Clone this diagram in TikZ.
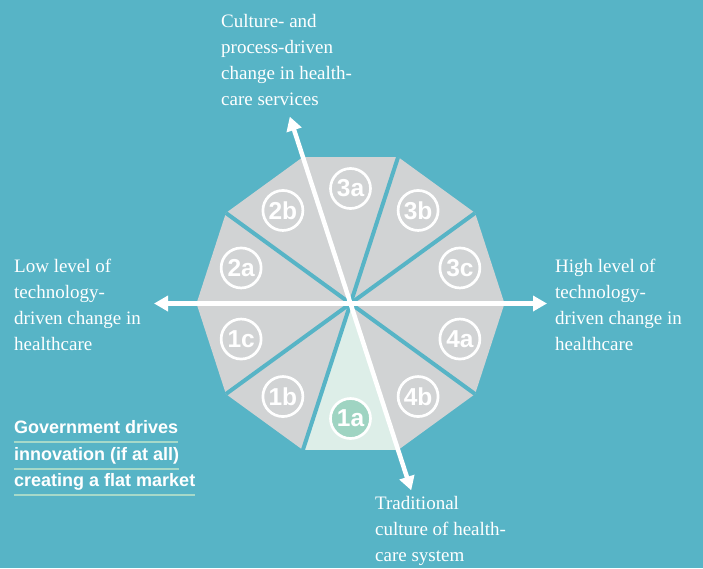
\documentclass[tikz,border=0pt]{standalone}
\usepackage{fontspec}
\setmainfont{Liberation Serif}
\newfontfamily\labelsans{Liberation Sans}
\usetikzlibrary{arrows.meta,calc}
\definecolor{bgblue}{HTML}{57B4C6}
\definecolor{slicegray}{HTML}{D1D3D4}
\definecolor{slicemint}{HTML}{DDEEE8}
\definecolor{circgreen}{HTML}{9FD4C2}
\definecolor{ulmint}{HTML}{A6D9C9}
\begin{document}
\begin{tikzpicture}[x=1pt,y=-1pt,
  axis/.style={white, line width=4.5pt, -{Triangle[width=15pt,length=14pt]}},
  sepline/.style={bgblue, line width=4pt},
  badge/.style={circle, draw=white, line width=2.7pt, minimum size=40pt, inner sep=0pt, text=white,
    font=\labelsans\bfseries\fontsize{24.5}{24.5}\selectfont},
  axlabel/.style={text=white, align=left, anchor=base west, inner sep=0pt,
    font=\fontsize{19}{26}\selectfont},
  boldline/.style={text=white, anchor=base west, inner sep=0pt,
    font=\labelsans\bfseries\fontsize{18}{20}\selectfont},
  uline/.style={ulmint, line width=2pt}]
\fill[bgblue] (0,0) rectangle (703,568);
\useasboundingbox (0,0) rectangle (703,568);
\coordinate (C) at (350.5,303.5);
\foreach \i in {0,...,9}{
  \coordinate (V\i) at ($(C)+({154*cos(36*\i)},{-154*sin(36*\i)})$);
}
% slices
\foreach \i/\col in {0/slicegray,1/slicegray,2/slicegray,3/slicegray,4/slicegray,5/slicegray,6/slicegray,7/slicemint,8/slicegray}{
  \pgfmathtruncatemacro{\j}{\i+1}
  \fill[\col] (C) -- (V\i) -- (V\j) -- cycle;
}
\fill[slicegray] (C) -- (V9) -- (V0) -- cycle;
% separators
\foreach \i in {1,2,4,6,7,9}{
  \draw[sepline] (C) -- (V\i);
}
% axes
\coordinate (AR) at ($(C)+(196.5,0)$);
\coordinate (AL) at ($(C)+(-196.5,0)$);
\coordinate (AT) at ($(C)+({196.5*cos(108)},{-196.5*sin(108)})$);
\coordinate (AB) at ($(C)+({196.5*cos(288)},{-196.5*sin(288)})$);
\draw[axis] (C) -- (AR);
\draw[axis] (C) -- (AL);
\draw[axis] (C) -- (AT);
\draw[axis] (C) -- (AB);
% badges
\foreach \lab/\ang in {3a/90,3b/54,3c/18,4a/-18,4b/-54,1b/-126,1c/-162,2a/162,2b/126}{
  \node[badge] (b\lab) at ($(C)+({115*cos(\ang)},{-115*sin(\ang)})$) {\lab};
}
\node[badge, fill=circgreen] (b1a) at ($(C)+(0,115)$) {1a};
% axis labels (anchor is the baseline of the last line)
\node[axlabel] (ltop) at (221,105) {Culture- and\\process-driven\\change in health-\\care services};
\node[axlabel] (lleft) at (14,350) {Low level of\\technology-\\driven change in\\healthcare};
\node[axlabel] (lright) at (555,350) {High level of\\technology-\\driven change in\\healthcare};
\node[axlabel] (lbottom) at (375,561) {Traditional\\culture of health-\\care system};
% bold statement
\node[boldline] (g1) at (14,433) {Government drives};
\node[boldline] (g2) at (14,460) {innovation (if at all)};
\node[boldline] (g3) at (14,486) {creating a flat market};
\draw[uline] ([yshift=-9pt]g1.base west) -- ([yshift=-9pt]g1.base east);
\draw[uline] ([yshift=-9pt]g2.base west) -- ([yshift=-9pt]g2.base east);
\draw[uline] ([yshift=-9pt]g3.base west) -- ([yshift=-9pt]g3.base east);
\end{tikzpicture}
\end{document}
